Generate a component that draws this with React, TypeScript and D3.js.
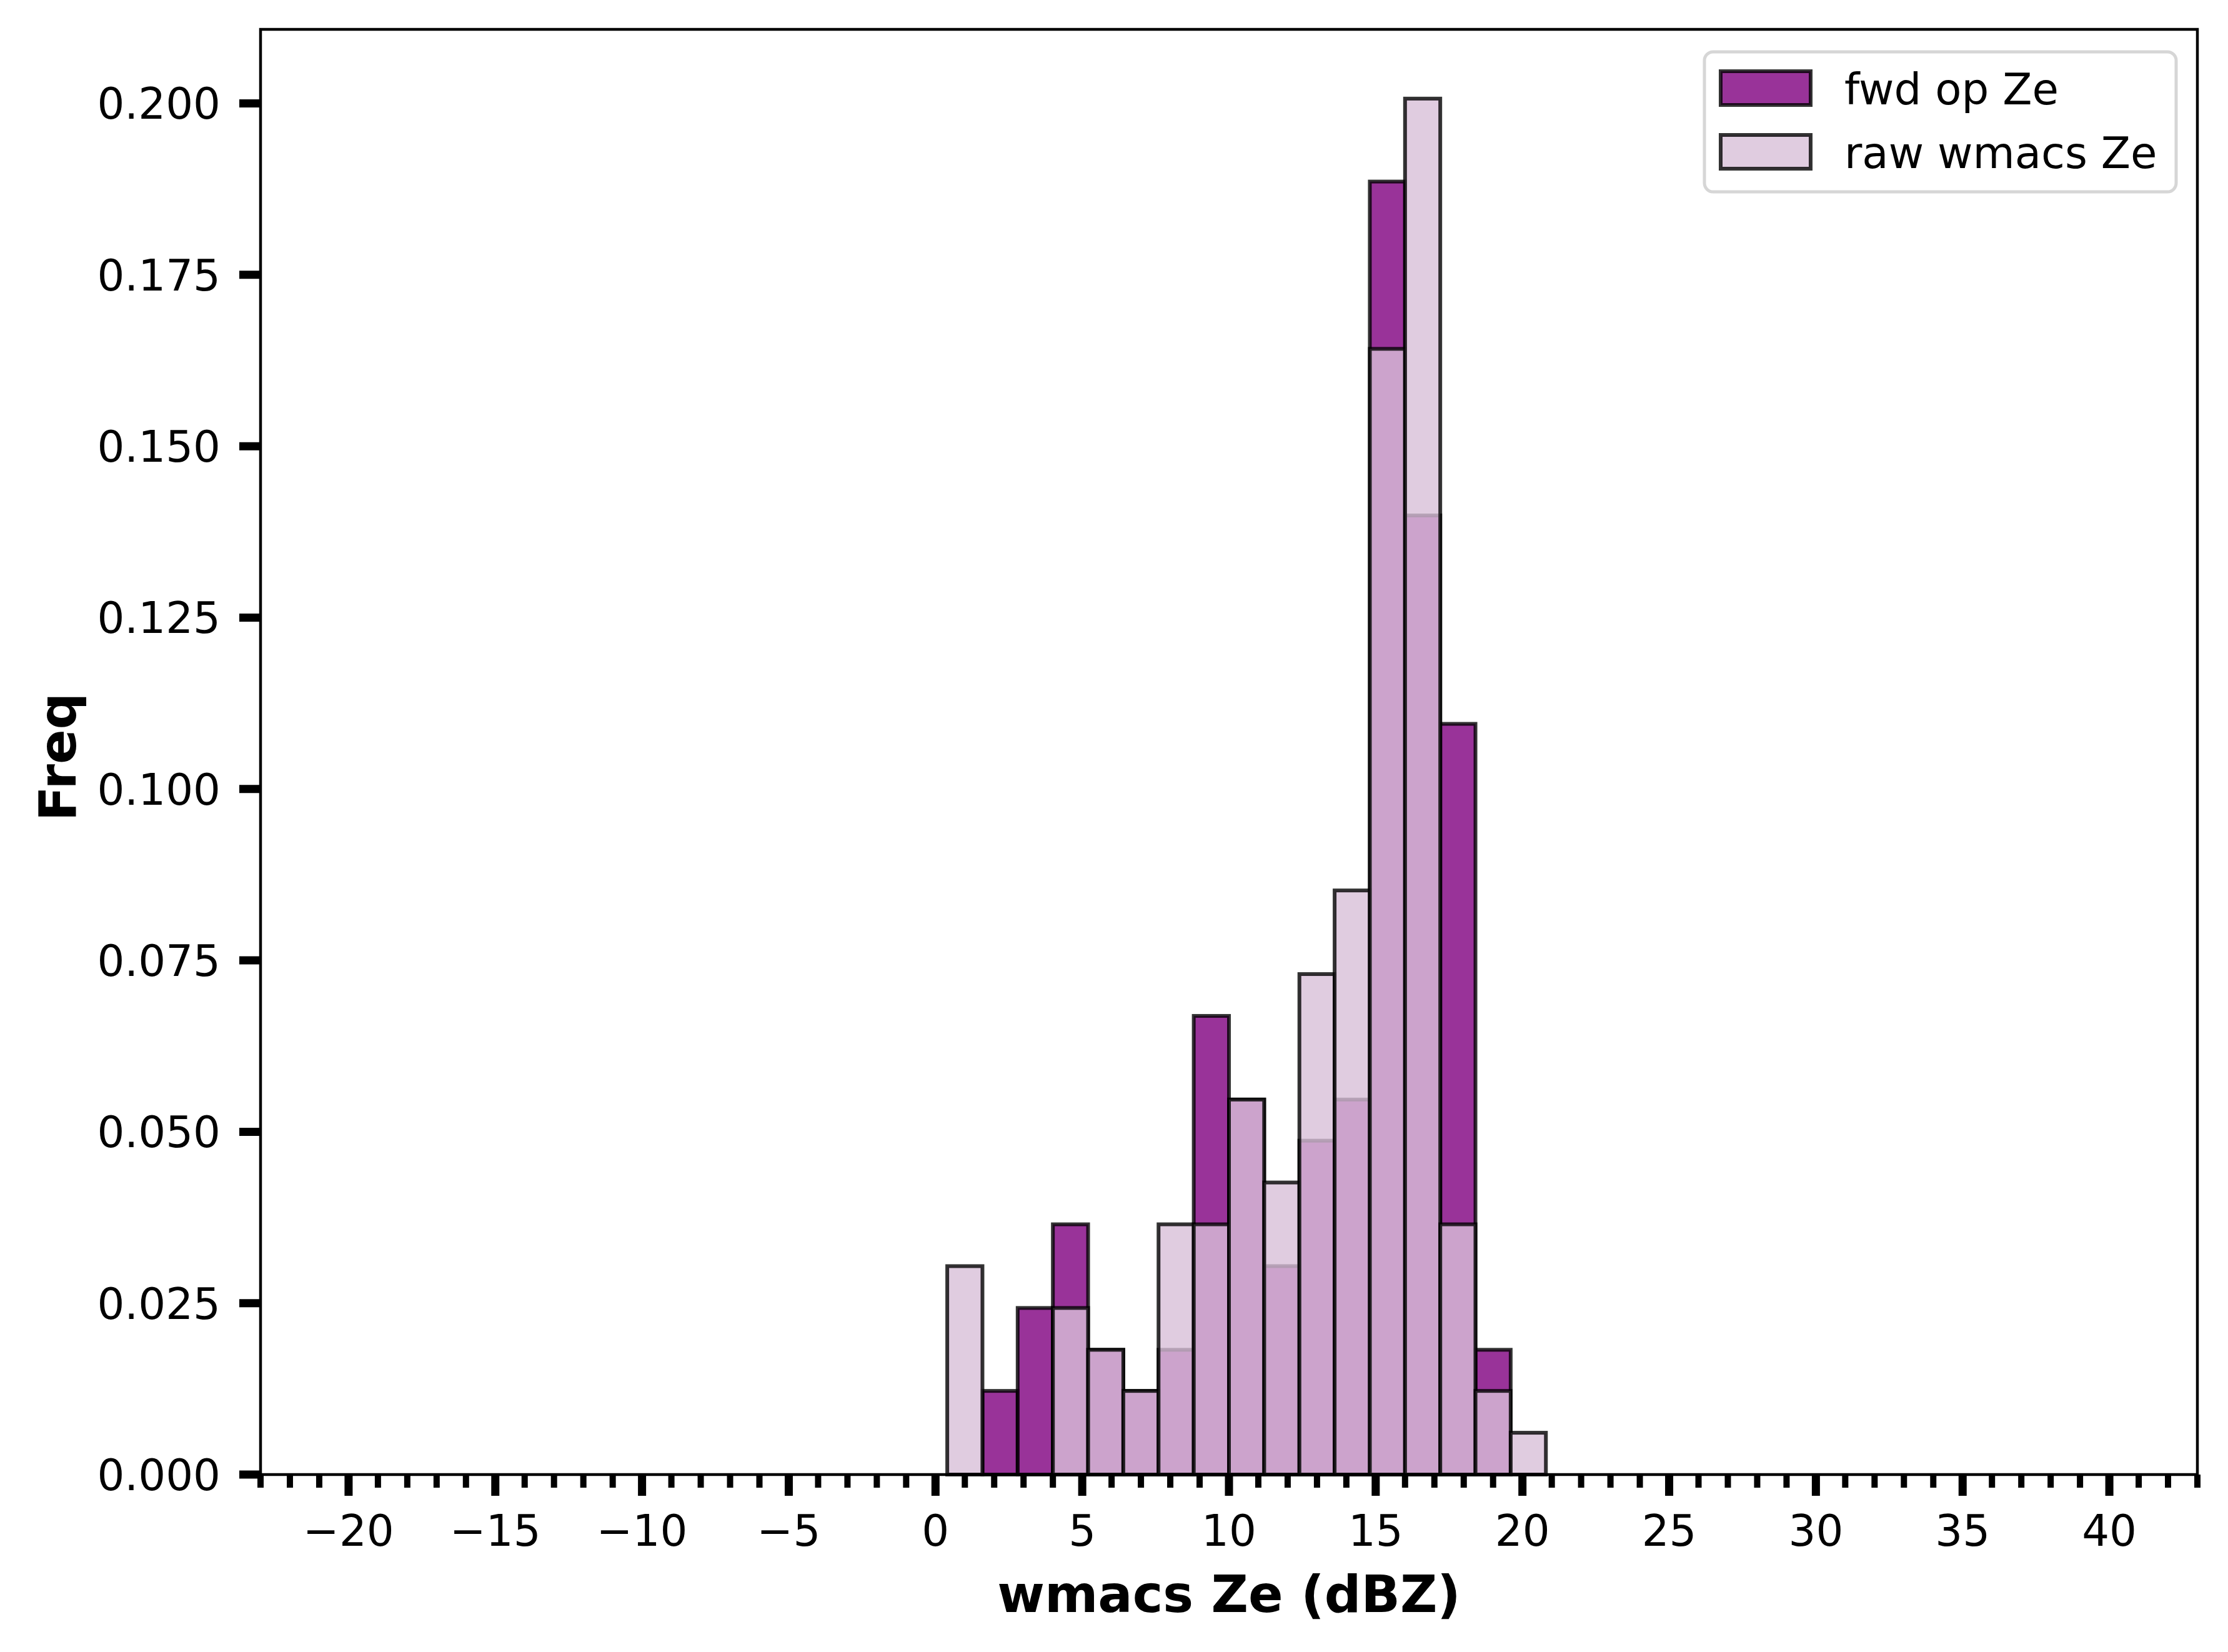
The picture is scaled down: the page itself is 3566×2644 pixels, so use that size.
import * as d3 from 'd3';

// histogram bins (dBZ), shared by both series
const binStart = 0.4;
const binWidth = 1.2;
const binCount = 17;

// density values, one per bin
const fwdOpZe = [0, 0.0122, 0.0243, 0.0365, 0.0182, 0.0122, 0.0182, 0.0669, 0.0547, 0.0304, 0.0487, 0.0547, 0.1886, 0.1399, 0.1095, 0.0182, 0];
const rawWmacsZe = [0.0304, 0, 0, 0.0243, 0.0182, 0.0122, 0.0365, 0.0365, 0.0547, 0.0426, 0.0730, 0.0852, 0.1642, 0.2007, 0.0365, 0.0122, 0.0061];

const xTicks = [-20, -15, -10, -5, 0, 5, 10, 15, 20, 25, 30, 35, 40];
const yTicks = [0, 0.025, 0.05, 0.075, 0.1, 0.125, 0.15, 0.175, 0.2];
const seriesNames = ['fwd op Ze', 'raw wmacs Ze'];

const width = 3566;
const height = 2644;
const margin = { top: 47, right: 49, bottom: 284, left: 417 };
const font = '"DejaVu Sans", sans-serif';

export default function App() {
  const chartWidth = width - margin.left - margin.right;
  const chartHeight = height - margin.top - margin.bottom;

  const xScale = d3.scaleLinear().domain([-23, 43]).range([0, chartWidth]);
  const yScale = d3.scaleLinear().domain([0, 0.2108]).range([chartHeight, 0]);

  const edges = d3.range(binCount).map(i => binStart + i * binWidth);
  const minorTicks = d3.range(-23, 44, 1).filter(t => t % 5 !== 0);

  const series = [
    { name: seriesNames[0], values: fwdOpZe, fill: 'purple' },
    { name: seriesNames[1], values: rawWmacsZe, fill: 'thistle' }
  ];

  const fmtY = d3.format('.3f');
  const fmtX = (t: number) => (t < 0 ? '\u2212' + Math.abs(t) : String(t));

  return (
    <svg width={width} height={height} style={{ position: 'absolute', left: 0, top: 0, background: '#fff' }}>
      <g transform={`translate(${margin.left},${margin.top})`}>
        {/* bars: fwd first, raw drawn over it */}
        {series.map(s => (
          <g key={s.name}>
            {s.values.map((v, i) => v > 0 && (
              <rect
                key={i}
                x={xScale(edges[i])}
                y={yScale(v)}
                width={xScale(edges[i] + binWidth) - xScale(edges[i])}
                height={yScale(0) - yScale(v)}
                fill={s.fill}
                fillOpacity={0.8}
                stroke="#000"
                strokeOpacity={0.8}
                strokeWidth={6}
              />
            ))}
          </g>
        ))}

        {/* frame */}
        <rect x={0} y={0} width={chartWidth} height={chartHeight} fill="none" stroke="#000" strokeWidth={4.5} />

        {/* x axis */}
        <g transform={`translate(0,${chartHeight})`}>
          {minorTicks.map(t => (
            <line key={'m' + t} x1={xScale(t)} x2={xScale(t)} y1={0} y2={21} stroke="#000" strokeWidth={10} />
          ))}
          {xTicks.map(t => (
            <g key={t}>
              <line x1={xScale(t)} x2={xScale(t)} y1={0} y2={34} stroke="#000" strokeWidth={13} />
              <text x={xScale(t)} y={114} textAnchor="middle" fontSize={69} fontFamily={font} fill="#000">
                {fmtX(t)}
              </text>
            </g>
          ))}
          <text x={chartWidth / 2} y={220} textAnchor="middle" fontSize={82} fontWeight="bold" fontFamily={font} fill="#000">
            wmacs Ze (dBZ)
          </text>
        </g>

        {/* y axis */}
        <g>
          {yTicks.map(t => (
            <g key={t}>
              <line x1={-34} x2={0} y1={yScale(t)} y2={yScale(t)} stroke="#000" strokeWidth={13} />
              <text x={-64} y={yScale(t)} dy="0.36em" textAnchor="end" fontSize={69} fontFamily={font} fill="#000">
                {fmtY(t)}
              </text>
            </g>
          ))}
          <text
            x={0}
            y={0}
            textAnchor="middle"
            fontSize={82}
            fontWeight="bold"
            fontFamily={font}
            fill="#000"
            transform={`translate(${121 - margin.left},${chartHeight / 2 + 8}) rotate(-90)`}
          >
            Freq
          </text>
        </g>
      </g>

      {/* legend */}
      <g transform="translate(2728,83)">
        <rect x={0} y={0} width={755} height={224} rx={14} fill="#fff" fillOpacity={0.8} stroke="#d6d6d6" strokeWidth={5} />
        {series.map((s, i) => (
          <g key={s.name} transform={`translate(0,${31 + i * 102})`}>
            <rect x={26} y={0} width={144} height={54} fill={s.fill} fillOpacity={0.8} stroke="#000" strokeOpacity={0.8} strokeWidth={6} />
            <text x={224} y={53} fontSize={69} fontFamily={font} fill="#000">
              {s.name}
            </text>
          </g>
        ))}
      </g>
    </svg>
  );
}
